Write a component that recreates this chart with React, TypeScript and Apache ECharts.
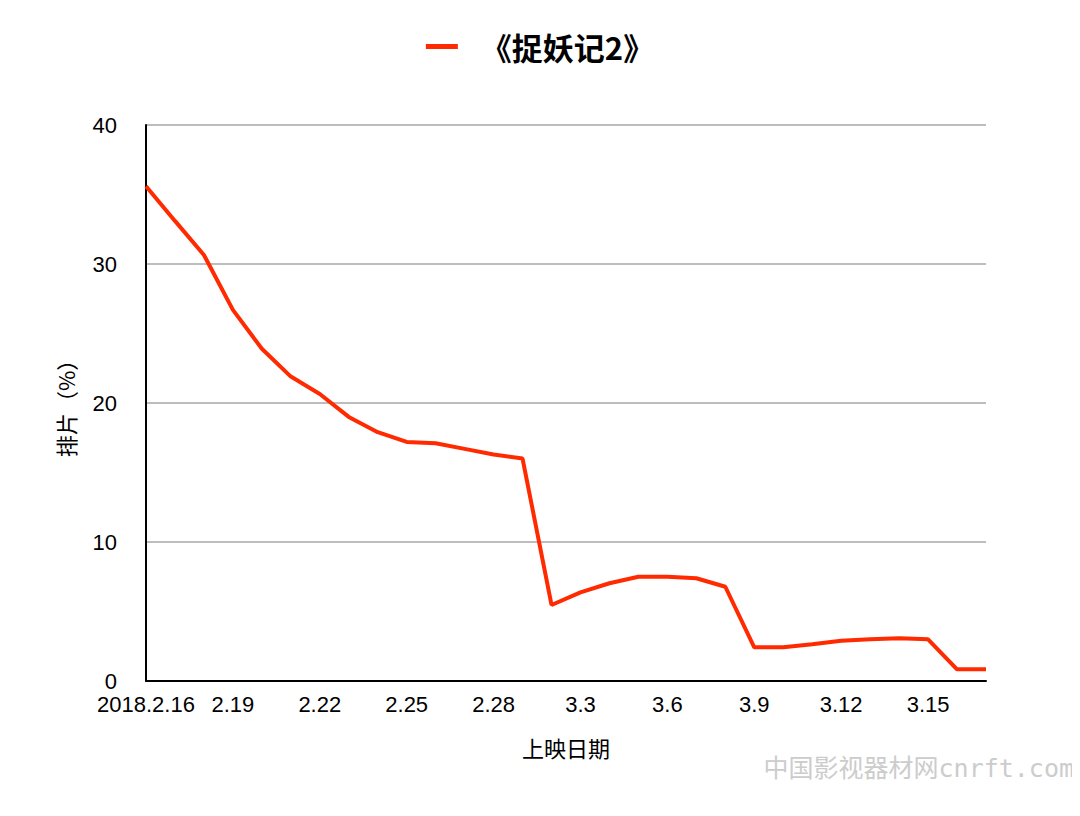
import React, { useEffect, useRef } from "react";
import * as echarts from "echarts";

const seriesName = "《捉妖记2》";
const dates = [
  "2018.2.16", "2.17", "2.18", "2.19", "2.20", "2.21", "2.22", "2.23", "2.24", "2.25",
  "2.26", "2.27", "2.28", "3.1", "3.2", "3.3", "3.4", "3.5", "3.6", "3.7",
  "3.8", "3.9", "3.10", "3.11", "3.12", "3.13", "3.14", "3.15", "3.16", "3.17",
];
const shares = [
  35.6, 33.1, 30.65, 26.7, 23.9, 21.9, 20.65, 19.0, 17.9, 17.2,
  17.1, 16.7, 16.3, 16.0, 5.47, 6.38, 7.03, 7.5, 7.5, 7.39,
  6.78, 2.42, 2.42, 2.64, 2.9, 3.0, 3.07, 3.0, 0.84, 0.84,
];
const yTicks = [0, 10, 20, 30, 40];
const xAxisName = "上映日期";
const yAxisName = "排片（%）";
const watermark = "中国影视器材网cnrft.com";

const latin = "'Liberation Sans', Arial, 'Noto Sans CJK SC', sans-serif";
const cjk = "'Noto Sans CJK SC', 'Liberation Sans', sans-serif";

export default function App() {
  const ref = useRef<HTMLDivElement>(null);
  useEffect(() => {
    if (!ref.current) return;
    const chart = echarts.init(ref.current, undefined, { renderer: "svg" });
    chart.setOption({
      animation: false,
      backgroundColor: "#ffffff",
      legend: {
        top: 26,
        left: "center",
        icon: "rect",
        itemWidth: 32,
        itemHeight: 5,
        textStyle: {
          fontFamily: cjk,
          fontSize: 31,
          fontWeight: "bold",
          color: "#000",
          padding: [0, 0, 0, 18],
        },
        data: [seriesName],
      },
      grid: { left: 146, right: 94, top: 125, bottom: 135 },
      xAxis: {
        type: "category",
        data: dates,
        boundaryGap: false,
        name: xAxisName,
        nameLocation: "middle",
        nameGap: 55,
        nameTextStyle: { fontFamily: cjk, fontSize: 22, color: "#000" },
        axisLine: { lineStyle: { color: "#000", width: 2 } },
        axisTick: { show: false },
        axisLabel: {
          interval: 2,
          fontFamily: latin,
          fontSize: 22,
          color: "#000",
          margin: 12,
        },
        splitLine: { show: false },
      },
      yAxis: {
        type: "value",
        min: yTicks[0],
        max: yTicks[yTicks.length - 1],
        interval: 10,
        name: yAxisName,
        nameLocation: "middle",
        nameGap: 70,
        nameRotate: 90,
        nameTextStyle: { fontFamily: cjk, fontSize: 22, color: "#000" },
        axisLine: { show: true, lineStyle: { color: "#000", width: 2 } },
        axisTick: { show: false },
        axisLabel: {
          fontFamily: latin,
          fontSize: 22,
          color: "#000",
          margin: 29,
        },
        splitLine: { lineStyle: { color: "#bdbdbd", width: 2 } },
      },
      series: [
        {
          name: seriesName,
          type: "line",
          data: shares,
          symbol: "none",
          lineStyle: { color: "#ff2a00", width: 4 },
          itemStyle: { color: "#ff2a00" },
        },
      ],
      graphic: [
        {
          type: "text",
          right: 6,
          top: 756,
          style: {
            text: watermark,
            fontFamily: "'DejaVu Sans Mono', 'Noto Sans CJK SC', monospace",
            fontSize: 25,
            fill: "#cccccc",
          },
        },
      ],
    });
    return () => chart.dispose();
  }, []);
  return <div ref={ref} style={{ width: 1080, height: 816, margin: -8 }} />;
}
